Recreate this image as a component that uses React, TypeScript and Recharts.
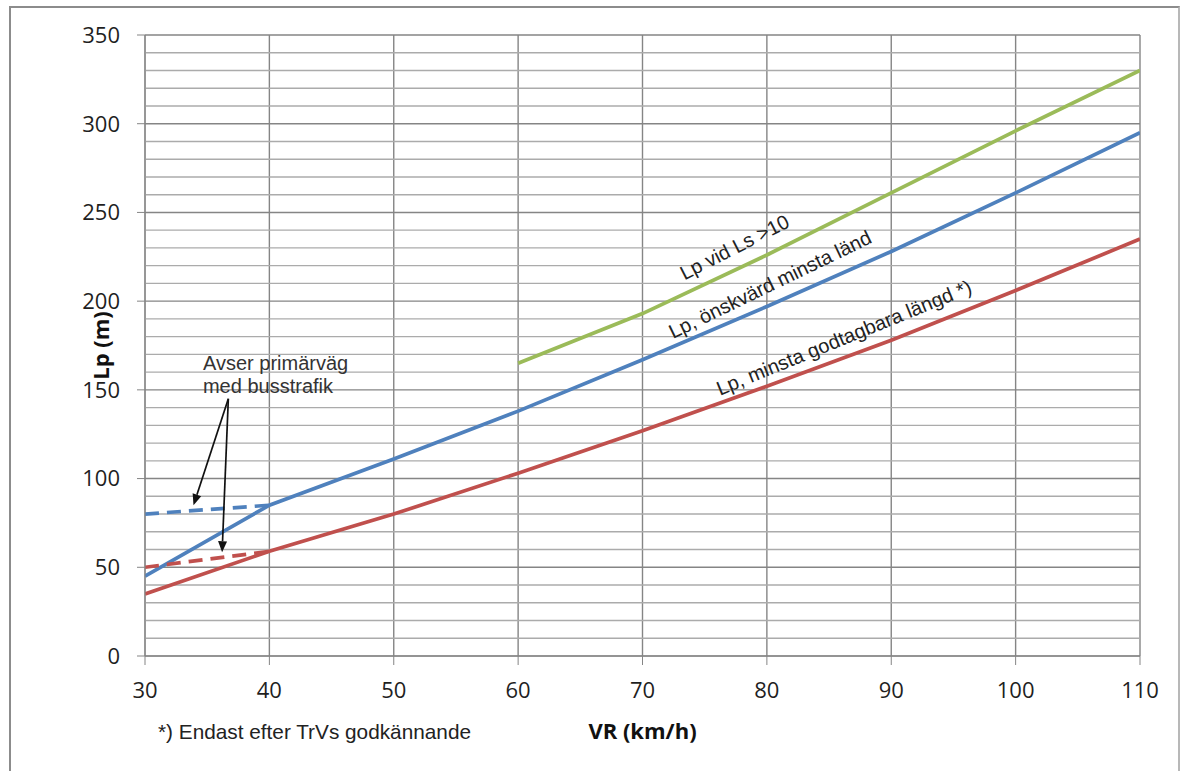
import React from 'react';
import { LineChart, Line, XAxis, YAxis, CartesianGrid, ReferenceLine, ReferenceDot, Label } from 'recharts';

const speeds = [30, 40, 50, 60, 70, 80, 90, 100, 110];
const blueValues = [45, 85, 111, 138, 167, 197, 228, 261, 295];
const redValues = [35, 59, 80, 103, 127, 152, 178, 206, 235];
const greenSpeeds = [60, 70, 80, 90, 100, 110];
const greenValues = [165, 193, 226, 261, 296, 330];
const blueDashSpeeds = [30, 40];
const blueDashValues = [80, 85];
const redDashSpeeds = [30, 40];
const redDashValues = [50, 59];

const xTicks = [30, 40, 50, 60, 70, 80, 90, 100, 110];
const yTicks = [0, 50, 100, 150, 200, 250, 300, 350];
const yMinor = [10, 20, 30, 40, 60, 70, 80, 90, 110, 120, 130, 140, 160, 170, 180, 190, 210, 220, 230, 240, 260, 270, 280, 290, 310, 320, 330, 340];

const lineLabels = [
  { text: 'Lp vid Ls >10', x: 77.4, y: 230.5, angle: -27 },
  { text: 'Lp, önskvärd minsta länd', x: 80.25, y: 209.5, angle: -25.8 },
  { text: 'Lp, minsta godtagbara längd *)', x: 86.2, y: 179.5, angle: -22.2 },
];
const noteLines = [
  { text: 'Avser primärväg', x: 34.66, y: 161 },
  { text: 'med busstrafik', x: 34.66, y: 148.5 },
];
const arrowStart = { x: 36.7, y: 145 };
const arrowTips = [
  { x: 33.9, y: 85 },
  { x: 36.2, y: 58.5 },
];

const toPts = (xs: number[], ys: number[]) => xs.map((x, i) => ({ x, y: ys[i] }));

const BLUE = '#4f81bd';
const RED = '#c0504d';
const GREEN = '#9bbb59';
const MAJOR = '#858585';
const MINOR = '#ababab';
const TICK_FONT = '"Open Sans", "DejaVu Sans", sans-serif';
const NOTE_FONT = '"Liberation Sans", Arial, sans-serif';
const LW = 3.7;

const ArrowShape = (p: any) => {
  const { x1, y1, x2, y2 } = p;
  const dx = x2 - x1;
  const dy = y2 - y1;
  const len = Math.sqrt(dx * dx + dy * dy) || 1;
  const ux = dx / len;
  const uy = dy / len;
  const L = 11;
  const W = 4.5;
  const bx = x2 - ux * L;
  const by = y2 - uy * L;
  const pts = `${x2},${y2} ${bx - uy * W},${by + ux * W} ${bx + uy * W},${by - ux * W}`;
  return (
    <g>
      <line x1={x1} y1={y1} x2={bx} y2={by} stroke="#111" strokeWidth={1.7} />
      <polygon points={pts} fill="#111" />
    </g>
  );
};

export default function App() {
  return (
    <div style={{ position: 'absolute', left: 0, top: 0, width: 1183, height: 771, overflow: 'hidden', background: '#fff' }}>
      <div
        style={{
          position: 'absolute',
          left: 9,
          top: 6,
          width: 1167,
          height: 820,
          borderLeft: '2px solid #8c8c8c',
          borderTop: '2px solid #8c8c8c',
          borderRight: '2px solid #b8b8b8',
        }}
      />
      <div style={{ position: 'absolute', left: 0, top: 0 }}>
        <LineChart width={1183} height={771} margin={{ top: 35, right: 43, bottom: 85, left: 85 }}>
          {yMinor.map((v) => (
            <ReferenceLine key={'m' + v} y={v} stroke={MINOR} strokeWidth={1.4} />
          ))}
          <CartesianGrid stroke={MAJOR} strokeWidth={1.4} />
          <XAxis
            dataKey="x"
            type="number"
            domain={[30, 110]}
            ticks={xTicks}
            allowDataOverflow
            height={30}
            tickSize={9}
            tickMargin={17}
            stroke={MAJOR}
            tick={{ fill: '#1f1f1f', fontSize: 22, fontFamily: TICK_FONT }}
          >
            <Label
              content={(props: any) => {
                const vb = props.viewBox;
                return (
                  <text
                    x={vb.x + vb.width / 2}
                    y={vb.y + 83}
                    textAnchor="middle"
                    fontFamily={TICK_FONT}
                    fontWeight="bold"
                    fontSize={22}
                    fill="#111"
                  >
                    VR (km/h)
                  </text>
                );
              }}
            />
            <Label
              content={(props: any) => {
                const vb = props.viewBox;
                return (
                  <text
                    x={vb.x + 13}
                    y={vb.y + 83}
                    textAnchor="start"
                    fontFamily={NOTE_FONT}
                    fontSize={21}
                    fill="#222"
                    textLength={313}
                    lengthAdjust="spacingAndGlyphs"
                  >
                    *) Endast efter TrVs godkännande
                  </text>
                );
              }}
            />
          </XAxis>
          <YAxis
            type="number"
            domain={[0, 350]}
            ticks={yTicks}
            width={60}
            tickSize={8}
            tickMargin={17}
            stroke={MAJOR}
            tick={{ fill: '#1f1f1f', fontSize: 22, fontFamily: TICK_FONT }}
          >
            <Label
              content={(props: any) => {
                const vb = props.viewBox;
                const cx = vb.x + 15;
                const cy = vb.y + vb.height / 2;
                return (
                  <text
                    x={cx}
                    y={cy}
                    transform={`rotate(-90 ${cx} ${cy})`}
                    textAnchor="middle"
                    dominantBaseline="central"
                    fontFamily={TICK_FONT}
                    fontWeight="bold"
                    fontSize={22}
                    fill="#111"
                  >
                    Lp (m)
                  </text>
                );
              }}
            />
          </YAxis>
          <Line data={toPts(speeds, redValues)} dataKey="y" type="linear" stroke={RED} strokeWidth={LW} dot={false} isAnimationActive={false} />
          <Line data={toPts(speeds, blueValues)} dataKey="y" type="linear" stroke={BLUE} strokeWidth={LW} dot={false} isAnimationActive={false} />
          <Line data={toPts(greenSpeeds, greenValues)} dataKey="y" type="linear" stroke={GREEN} strokeWidth={LW} dot={false} isAnimationActive={false} />
          <Line data={toPts(blueDashSpeeds, blueDashValues)} dataKey="y" type="linear" stroke={BLUE} strokeWidth={LW} strokeDasharray="14 8" dot={false} isAnimationActive={false} />
          <Line data={toPts(redDashSpeeds, redDashValues)} dataKey="y" type="linear" stroke={RED} strokeWidth={LW} strokeDasharray="14 8" dot={false} isAnimationActive={false} />
          {arrowTips.map((t, i) => (
            <ReferenceLine
              key={'a' + i}
              segment={[arrowStart, t]}
              ifOverflow="visible"
              shape={ArrowShape}
            />
          ))}
          {lineLabels.map((l) => (
            <ReferenceDot
              key={l.text}
              x={l.x}
              y={l.y}
              r={0}
              ifOverflow="visible"
              shape={(p: any) => (
                <text
                  x={p.cx}
                  y={p.cy}
                  transform={`rotate(${l.angle} ${p.cx} ${p.cy})`}
                  textAnchor="middle"
                  dominantBaseline="central"
                  fontFamily={NOTE_FONT}
                  fontSize={20}
                  fill="#222"
                >
                  {l.text}
                </text>
              )}
            />
          ))}
          {noteLines.map((l) => (
            <ReferenceDot
              key={l.text}
              x={l.x}
              y={l.y}
              r={0}
              ifOverflow="visible"
              shape={(p: any) => (
                <text x={p.cx} y={p.cy} textAnchor="start" fontFamily={NOTE_FONT} fontSize={20} fill="#333">
                  {l.text}
                </text>
              )}
            />
          ))}
        </LineChart>
      </div>
    </div>
  );
}
